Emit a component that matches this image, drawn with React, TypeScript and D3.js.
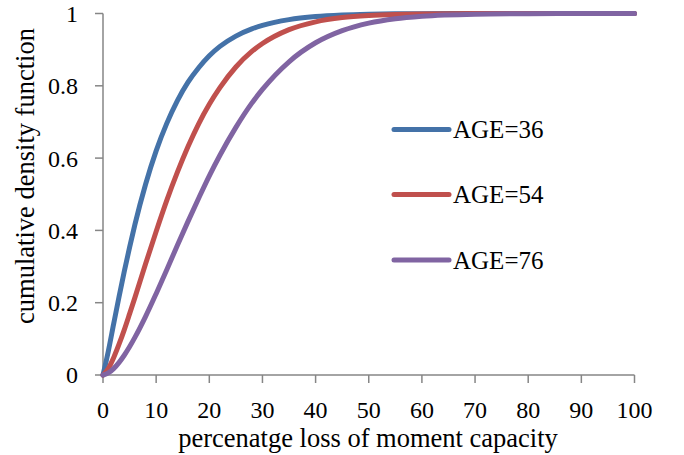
import React from "react";
import * as d3 from "d3";

const lossPct = [0, 1, 2, 3, 4, 5, 6, 8, 10, 12, 14, 16, 18, 20, 22, 25, 28, 30, 35, 40, 45, 50, 55, 60, 70, 80, 90, 100];
const age36 = [0, 0.066, 0.141, 0.215, 0.286, 0.353, 0.416, 0.527, 0.62, 0.696, 0.759, 0.81, 0.85, 0.883, 0.909, 0.9375, 0.9575, 0.967, 0.983, 0.9914, 0.9957, 0.9979, 0.999, 0.9995, 1, 1, 1, 1];
const age54 = [0, 0.0178, 0.0478, 0.0845, 0.125, 0.169, 0.214, 0.307, 0.397, 0.483, 0.561, 0.632, 0.695, 0.749, 0.795, 0.852, 0.895, 0.917, 0.9555, 0.977, 0.9887, 0.9946, 0.9975, 0.9989, 0.9998, 1, 1, 1];
const age76 = [0, 0.0057, 0.0177, 0.0343, 0.0546, 0.078, 0.104, 0.1616, 0.225, 0.291, 0.359, 0.425, 0.489, 0.551, 0.608, 0.685, 0.752, 0.79, 0.8665, 0.919, 0.9526, 0.9734, 0.9857, 0.9926, 0.9982, 0.9996, 1, 1];
const seriesNames = ["AGE=36", "AGE=54", "AGE=76"];
const seriesColors = ["#4472A8", "#C0504D", "#8064A2"];
const xTicks = [0, 10, 20, 30, 40, 50, 60, 70, 80, 90, 100];
const yTicks = [0, 0.2, 0.4, 0.6, 0.8, 1];
const xTitle = "percenatge loss of moment capacity";
const yTitle = "cumulative density function";

const W = 684;
const H = 455;
const FONT = "'Liberation Serif', 'DejaVu Serif', serif";

export default function App() {
  const x = d3.scaleLinear().domain([0, 100]).range([103, 634.5]);
  const y = d3.scaleLinear().domain([0, 1]).range([375, 13.5]);
  const allSeries = [age36, age54, age76];
  const line = d3
    .line<number>()
    .x((_, i) => x(lossPct[i]))
    .y((d) => y(d))
    .curve(d3.curveMonotoneX);
  const axisColor = "#868686";
  const legendY = [129.5, 194.5, 260];

  return (
    <svg
      width={W}
      height={H}
      style={{ position: "absolute", left: 0, top: 0, background: "#fff" }}
      fontFamily={FONT}
    >
      <rect x={0} y={0} width={W} height={H} fill="#fff" />
      {/* axes */}
      <line x1={x(0)} x2={x(0)} y1={y(0)} y2={y(1)} stroke={axisColor} strokeWidth={1.5} />
      <line x1={x(0)} x2={x(100)} y1={y(0)} y2={y(0)} stroke={axisColor} strokeWidth={1.5} />
      {yTicks.map((t) => (
        <g key={"y" + t}>
          <line x1={x(0) - 8} x2={x(0)} y1={y(t)} y2={y(t)} stroke={axisColor} strokeWidth={1.5} />
          <text x={78} y={y(t)} dy="0.35em" textAnchor="end" fontSize={24} fill="#000">
            {d3.format("")(t)}
          </text>
        </g>
      ))}
      {xTicks.map((t) => (
        <g key={"x" + t}>
          <line x1={x(t)} x2={x(t)} y1={y(0)} y2={y(0) + 8} stroke={axisColor} strokeWidth={1.5} />
          <text x={x(t)} y={418} textAnchor="middle" fontSize={24} fill="#000">
            {t}
          </text>
        </g>
      ))}
      <text x={368} y={447} textAnchor="middle" fontSize={26.5} fill="#000">
        {xTitle}
      </text>
      <text
        transform={`translate(34, 176) rotate(-90)`}
        textAnchor="middle"
        fontSize={26.5}
        fill="#000"
      >
        {yTitle}
      </text>
      {/* curves */}
      {allSeries.map((s, i) => (
        <path
          key={seriesNames[i]}
          d={line(s) || ""}
          fill="none"
          stroke={seriesColors[i]}
          strokeWidth={5}
          strokeLinejoin="round"
          strokeLinecap="round"
        />
      ))}
      {/* legend */}
      {seriesNames.map((n, i) => (
        <g key={"lg" + n}>
          <line
            x1={394}
            x2={449}
            y1={legendY[i]}
            y2={legendY[i]}
            stroke={seriesColors[i]}
            strokeWidth={5}
            strokeLinecap="round"
          />
          <text x={453} y={legendY[i]} dy="0.35em" fontSize={25} fill="#000">
            {n}
          </text>
        </g>
      ))}
    </svg>
  );
}
